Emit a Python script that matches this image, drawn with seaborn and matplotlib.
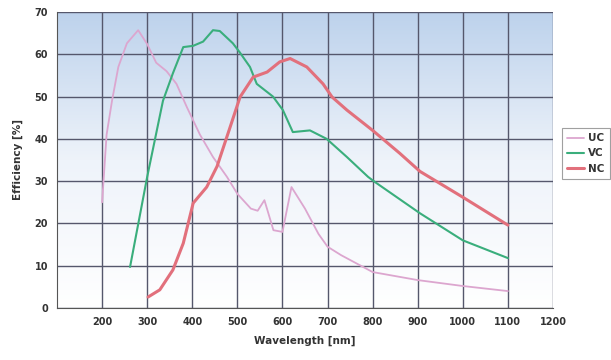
import numpy as np
import pandas as pd
import matplotlib
matplotlib.use("Agg")
import matplotlib.pyplot as plt
import seaborn as sns

# curve values (wavelength nm, efficiency %)
uc_x = [200, 210, 222, 236, 255, 280, 300, 320, 343, 365, 388, 417, 446, 477, 500, 530,
        545, 560, 580, 600, 620, 650, 680, 700, 730, 800, 900, 1000, 1100]
uc_y = [25, 41, 49, 57, 62.6, 65.7, 62.4, 58, 56, 53, 47.5, 41, 35.7, 31, 27, 23.5,
        23, 25.5, 18.4, 18, 28.6, 23.5, 17.5, 14.5, 12.5, 8.5, 6.6, 5.2, 4.0]

vc_x = [262, 300, 335, 357, 380, 402, 424, 446, 461, 490, 505, 528, 543, 579, 601, 623,
        661, 698, 743, 790, 805, 905, 1000, 1100]
vc_y = [9.7, 31, 49, 55.5, 61.7, 62, 63, 65.7, 65.5, 62.6, 60.5, 57, 53, 50, 46.8, 41.6,
        42, 40, 35.7, 31, 29.8, 22.4, 16, 11.8]

nc_x = [302, 328, 357, 380, 402, 432, 455, 484, 506, 535, 566, 594, 617, 654, 690, 710,
        743, 800, 860, 905, 1000, 1100]
nc_y = [2.6, 4.3, 9, 15.3, 24.8, 28.6, 33.5, 42.8, 49.9, 54.6, 55.8, 58.2, 59, 57, 53,
        49.9, 46.8, 42, 36.6, 32.3, 26.2, 19.6]

x_ticks = [200, 300, 400, 500, 600, 700, 800, 900, 1000, 1100, 1200]
y_ticks = [0, 10, 20, 30, 40, 50, 60, 70]

series = {"UC": (uc_x, uc_y), "VC": (vc_x, vc_y), "NC": (nc_x, nc_y)}
colors = {"UC": "#dca6cf", "VC": "#3aae7c", "NC": "#e2707c"}
widths = {"UC": 1.3, "VC": 1.5, "NC": 2.2}

df = pd.concat(
    [pd.DataFrame({"wl": x, "eff": y, "cam": name}) for name, (x, y) in series.items()],
    ignore_index=True,
)

sns.set_style("white")
plt.rcParams["font.family"] = ["DejaVu Sans"]

fig = plt.figure(figsize=(6.11, 3.6), dpi=100)
ax = fig.add_axes([57 / 611, 1 - 308 / 360, (553 - 57) / 611, (308 - 12) / 360])

# blue-to-white vertical gradient background
grad = np.linspace(0, 1, 256).reshape(-1, 1)
cmap = matplotlib.colors.LinearSegmentedColormap.from_list("bg", ["#ffffff", "#eef3fa", "#bdd2ec"])
ax.imshow(grad, aspect="auto", cmap=cmap, origin="lower",
          extent=[100, 1200, 0, 70], zorder=0)

for name in series:
    sub = df[df["cam"] == name]
    sns.lineplot(data=sub, x="wl", y="eff", ax=ax, color=colors[name],
                 linewidth=widths[name], label=name, zorder=3, sort=False)

ax.set_xlim(100, 1200)
ax.set_ylim(0, 70)
ax.set_xticks(x_ticks)
ax.set_yticks(y_ticks)
ax.grid(True, which="major", color="#55576c", linewidth=1.0, zorder=1)
ax.set_axisbelow(True)
ax.tick_params(axis="both", labelsize=7, colors="#333333", length=3, width=0.8)
for lbl in ax.get_xticklabels() + ax.get_yticklabels():
    lbl.set_fontweight("bold")

for side in ["top", "right"]:
    ax.spines[side].set_visible(False)
ax.spines["left"].set_color("#555555")
ax.spines["bottom"].set_color("#555555")

ax.set_xlabel("Wavelength [nm]", fontsize=7.5, fontweight="bold", color="#333333", labelpad=6)
ax.set_ylabel("Efficiency [%]", fontsize=7.5, fontweight="bold", color="#333333", labelpad=8)

leg = ax.legend(loc="upper left", bbox_to_anchor=(562 / 611, 1 - 128 / 360),
                bbox_transform=fig.transFigure, frameon=True, fontsize=7.5,
                handlelength=1.6, handletextpad=0.4, borderpad=0.5, labelspacing=0.5,
                fancybox=False, borderaxespad=0)
leg.get_frame().set_edgecolor("#888888")
leg.get_frame().set_linewidth(0.8)
for t in leg.get_texts():
    t.set_fontweight("bold")
    t.set_color("#333333")

fig.savefig("out.png", dpi=100)
